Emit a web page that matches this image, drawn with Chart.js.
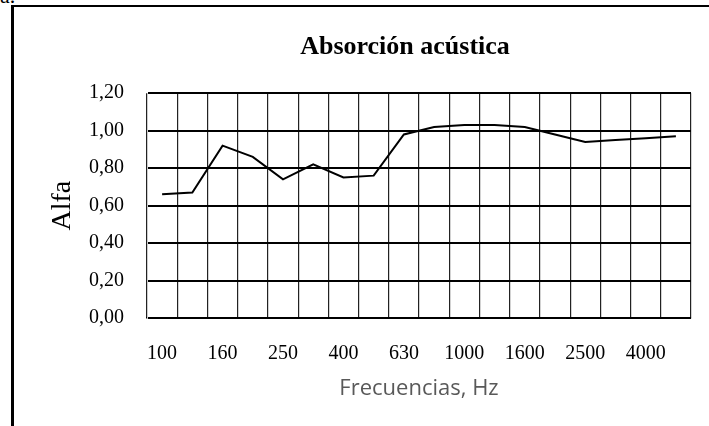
<!DOCTYPE html>
<html>
<head>
<meta charset="utf-8">
<script src="https://cdn.jsdelivr.net/npm/chart.js@4"></script>
<style>
  html, body { margin: 0; padding: 0; background: #fff; }
  #wrap { position: relative; width: 709px; height: 426px; overflow: hidden; }
  #frame { position: absolute; left: 11px; top: 5px; right: 0; bottom: 0;
           border-left: 3px solid #000; border-top: 2px solid #000; }
  #cut { position: absolute; left: 0; top: -17px; font: 22px "Liberation Serif", serif; color: #000; }
  canvas { position: absolute; left: 0; top: 0; }
</style>
</head>
<body>
<div id="wrap">
  <div id="cut">a.</div>
  <div id="frame"></div>
  <canvas id="absChart" width="709" height="426"></canvas>
</div>
<script>
// tercios de octava
const frequencies = ["100", "125", "160", "200", "250", "315", "400", "500", "630",
  "800", "1000", "1250", "1600", "2000", "2500", "3150", "4000", "5000"];
const alpha = [0.66, 0.67, 0.92, 0.86, 0.74, 0.82, 0.75, 0.76, 0.98,
  1.02, 1.03, 1.03, 1.02, 0.98, 0.94, 0.95, 0.96, 0.97];
const yTicks = [0, 0.2, 0.4, 0.6, 0.8, 1.0, 1.2];

const serif = "'Liberation Serif', 'Times New Roman', serif";

// el título del original no está centrado en el canvas, lo corro un poco
const shiftTitle = {
  id: "shiftTitle",
  afterLayout(chart) {
    if (chart.titleBlock) chart.titleBlock.left = 119;
  },
};

function createAbsChart(ctx) {
  const config = {
    type: "line",
    data: {
      labels: frequencies,
      datasets: [
        {
          label: "Alfa",
          data: alpha,
          borderColor: "#000",
          borderWidth: 2,
          pointRadius: 0,
          tension: 0,
          fill: false,
        },
      ],
    },
    options: {
      responsive: false,
      maintainAspectRatio: false,
      animation: false,
      layout: { padding: { top: 0, left: 40, right: 18, bottom: 0 } },
      plugins: {
        legend: { display: false },
        tooltip: { enabled: false },
        title: {
          display: true,
          text: "Absorción acústica",
          color: "#000",
          font: { family: serif, size: 26, weight: "bold", lineHeight: 1.2 },
          padding: { top: 32, bottom: 30 },
        },
      },
      scales: {
        x: {
          offset: true,
          grid: { offset: true, color: "#222", lineWidth: 1.2, drawTicks: false },
          border: { color: "#000", width: 1.5 },
          ticks: {
            autoSkip: false,
            maxRotation: 0,
            padding: 24,
            color: "#000",
            font: { family: serif, size: 20 },
            callback: function (value, index) {
              return index % 2 === 0 ? frequencies[index] : ""; // una sí, una no
            },
          },
          title: {
            display: true,
            text: "Frecuencias, Hz",
            color: "#595959",
            font: { family: "'Open Sans', sans-serif", size: 22, lineHeight: 1.2 },
            padding: { top: 0, bottom: 24 },
          },
          afterFit: function (scale) {
            scale.height = 108;
          },
        },
        y: {
          min: 0,
          max: 1.2,
          afterBuildTicks: function (scale) {
            scale.ticks = yTicks.map((v) => ({ value: v }));
          },
          grid: { color: "#000", lineWidth: 2, drawTicks: false },
          border: { color: "#ccc", width: 1 },
          ticks: {
            padding: 23,
            color: "#000",
            font: { family: serif, size: 20 },
            callback: function (value) {
              return value.toFixed(2).replace(".", ",");
            },
          },
          title: {
            display: true,
            text: "Alfa",
            color: "#000",
            font: { family: serif, size: 28, lineHeight: 1.2 },
            padding: { top: 6, bottom: 0 },
          },
          afterFit: function (scale) {
            scale.width = 107;
          },
        },
      },
    },
    plugins: [shiftTitle],
  };
  return new Chart(ctx, config);
}

createAbsChart(document.getElementById("absChart"));
</script>
</body>
</html>
